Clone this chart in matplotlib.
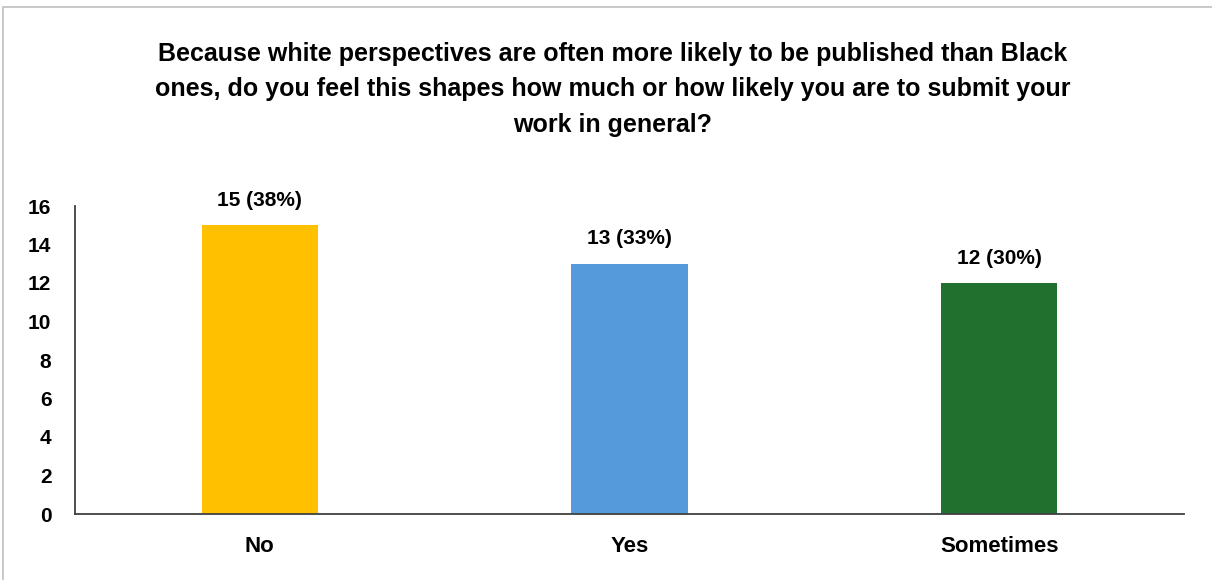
import matplotlib.pyplot as plt
from matplotlib.patches import Rectangle

plt.rcParams['font.family'] = ['Liberation Sans', 'DejaVu Sans']
plt.rcParams['font.weight'] = 'bold'

answers = ['No', 'Yes', 'Sometimes']
counts = [15, 13, 12]
percents = [38, 33, 30]
colors = ['#FFC000', '#559BDC', '#21702E']

title = ('Because white perspectives are often more likely to be published than Black\n'
         'ones, do you feel this shapes how much or how likely you are to submit your\n'
         'work in general?')

fig = plt.figure(figsize=(12.12, 5.8), dpi=100)
# thin frame round the chart area
fig.patches.append(Rectangle((3 / 1212, -0.01), 1.0, 1 - 7 / 580 + 0.01,
                             transform=fig.transFigure, fill=False,
                             edgecolor='#BFBFBF', linewidth=1.2))

ax = fig.add_axes([75 / 1212, 66 / 580, 1109 / 1212, 308 / 580])
x = range(len(answers))
bars = ax.bar(x, counts, width=0.315, color=colors)

for b, c, p in zip(bars, counts, percents):
    ax.annotate(f'{c} ({p}%)', (b.get_x() + b.get_width() / 2, c),
                xytext=(0, 11), textcoords='offset points',
                ha='center', va='bottom', fontsize=15, fontweight='bold')

ax.set_xlim(-0.5, 2.5)
ax.set_ylim(0, 16)
ax.set_yticks(range(0, 17, 2))
ax.set_xticks(list(x))
ax.set_xticklabels(answers)
ax.tick_params(axis='both', length=0)
ax.tick_params(axis='y', pad=17, labelsize=15)
ax.tick_params(axis='x', pad=16, labelsize=16)
for lbl in ax.get_xticklabels() + ax.get_yticklabels():
    lbl.set_fontweight('bold')

for s in ['top', 'right']:
    ax.spines[s].set_visible(False)
for s in ['left', 'bottom']:
    ax.spines[s].set_color('#404040')
    ax.spines[s].set_linewidth(1.3)

fig.text(613 / 1212, 1 - 42 / 580, title, ha='center', va='top',
         fontsize=18, fontweight='bold', linespacing=1.6)

fig.savefig('out.png', dpi=100)
